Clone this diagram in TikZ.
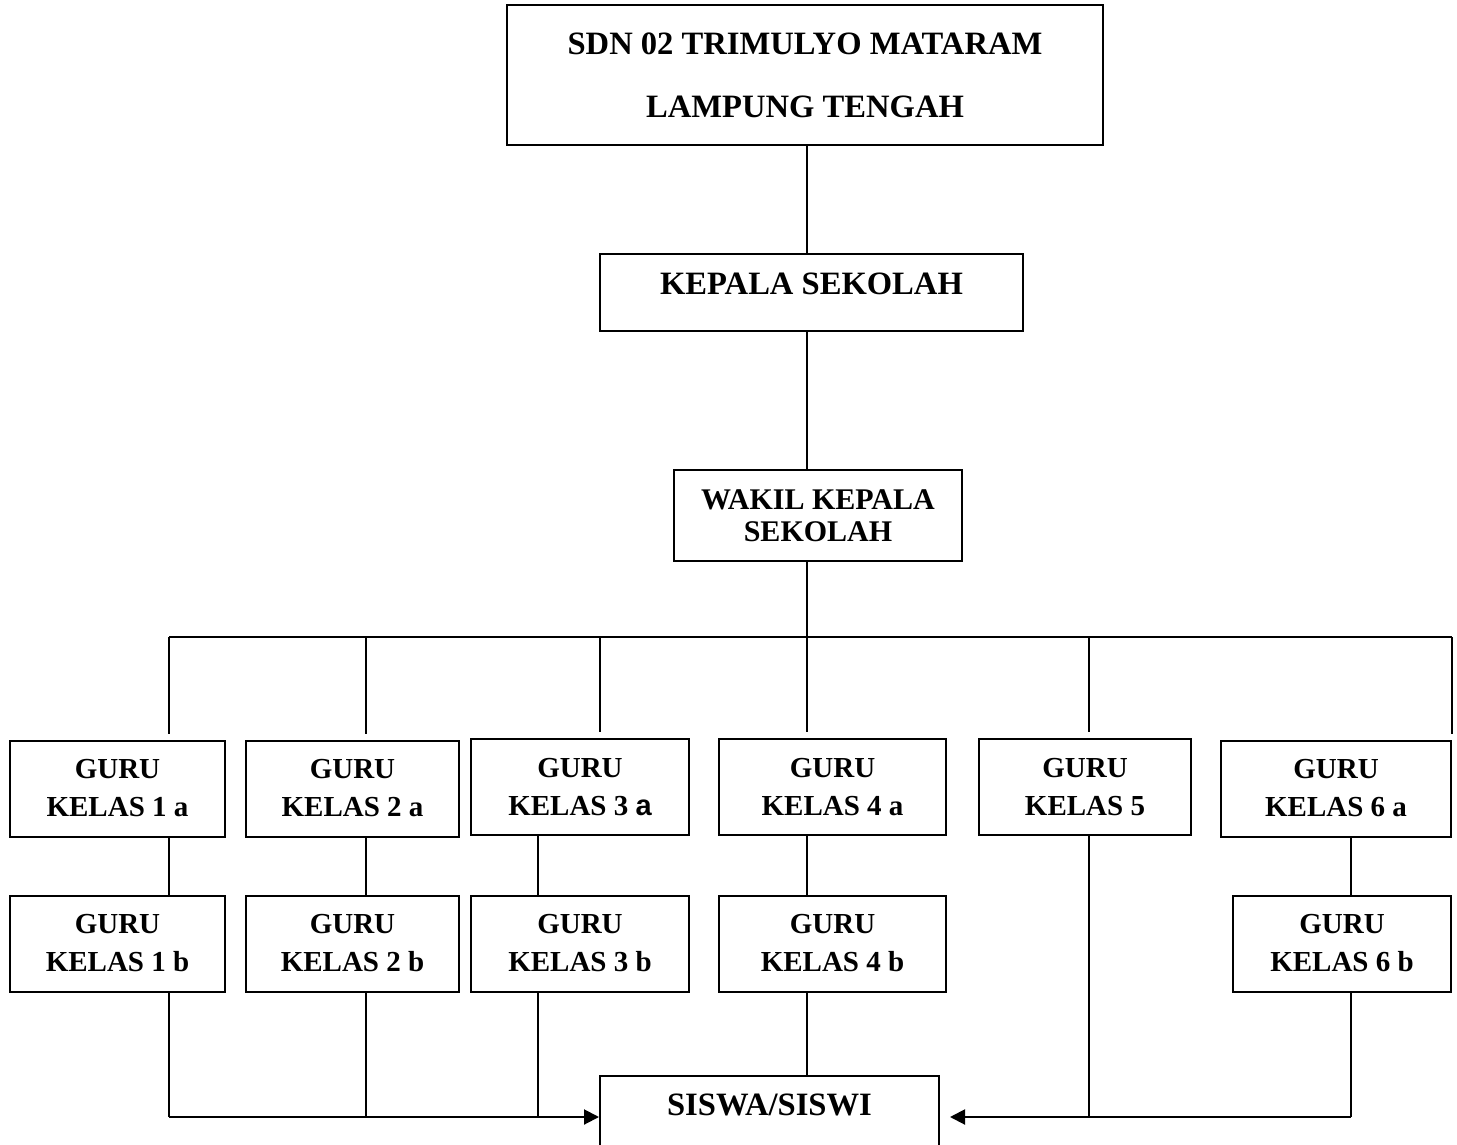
\documentclass[tikz,border=0pt]{standalone}
\usepackage{fontspec}
\setmainfont{Liberation Serif}
\newfontfamily\sansa{Liberation Sans}
\usetikzlibrary{arrows.meta}
\tikzstyle{unit} = [rectangle, draw=black, line width=1pt, inner sep=0pt, align=center, text centered, font=\fontsize{14.5}{16}\selectfont\bfseries]
\tikzstyle{head} = [unit, font=\fontsize{16.3}{17}\selectfont\bfseries]
\tikzstyle{guru} = [unit, minimum height=48pt]
\tikzstyle{line} = [line width=1pt]
\tikzstyle{edge} = [line width=1pt, -{Triangle[length=7.5pt,width=7.5pt]}]

\begin{document}
\begin{tikzpicture}[x=0.5pt, y=-0.5pt]
\useasboundingbox (0,0) rectangle (1457,1145);

\node (top) [head, minimum width=298pt, minimum height=70pt] at (805,75) {SDN 02 TRIMULYO MATARAM\\[14.5pt]LAMPUNG TENGAH};
\node (kep) [head, minimum width=211.5pt, text height=20.4pt, text depth=18.1pt, anchor=north] at (811.5,253) {KEPALA SEKOLAH};
\node (wakil) [unit, minimum width=144pt, minimum height=45.5pt, font=\fontsize{15}{16}\selectfont\bfseries] at (818,515.5) {WAKIL KEPALA\\SEKOLAH};

% guru kelas a
\node (g1a) [guru, minimum width=107.5pt] at (117.5,788.5) {GURU\\[3pt]KELAS 1 a};
\node (g2a) [guru, minimum width=106.5pt] at (352.5,788.5) {GURU\\[3pt]KELAS 2 a};
\node (g3a) [guru, minimum width=109pt] at (580,787) {GURU\\[3pt]KELAS 3 {\sansa a}};
\node (g4a) [guru, minimum width=113.5pt] at (832.5,787) {GURU\\[3pt]KELAS 4 a};
\node (g5) [guru, minimum width=106pt] at (1085,787) {GURU\\[3pt]KELAS 5};
\node (g6a) [guru, minimum width=115pt] at (1336,788.5) {GURU\\[3pt]KELAS 6 a};

% guru kelas b
\node (g1b) [guru, minimum width=107.5pt] at (117.5,943.5) {GURU\\[3pt]KELAS 1 b};
\node (g2b) [guru, minimum width=106.5pt] at (352.5,943.5) {GURU\\[3pt]KELAS 2 b};
\node (g3b) [guru, minimum width=109pt] at (580,943.5) {GURU\\[3pt]KELAS 3 b};
\node (g4b) [guru, minimum width=113.5pt] at (832.5,943.5) {GURU\\[3pt]KELAS 4 b};
\node (g6b) [guru, minimum width=109pt] at (1342,943.5) {GURU\\[3pt]KELAS 6 b};

\node (sis) [head, minimum width=169.5pt, text height=19.9pt, text depth=23pt, anchor=north] at (769.5,1075) {SISWA/SISWI};

% branch points
\coordinate (br1) at (169,637);
\coordinate (br2) at (366,637);
\coordinate (br3) at (600,637);
\coordinate (br4) at (807,637);
\coordinate (br5) at (1089,637);
\coordinate (br6) at (1452,637);
\coordinate (j1) at (169,1117);
\coordinate (j2) at (366,1117);
\coordinate (j3) at (538,1117);
\coordinate (j5) at (1089,1117);
\coordinate (j6) at (1351,1117);

\draw [line] (br4 |- top.south) -- (br4 |- kep.north);
\draw [line] (br4 |- kep.south) -- (br4 |- wakil.north);
\draw [line] (br4 |- wakil.south) -- (br4);
\draw [line] (br1) -- (br6);
\draw [line, shorten >=3pt] (br1) -- (br1 |- g1a.north);
\draw [line, shorten >=3pt] (br2) -- (br2 |- g2a.north);
\draw [line, shorten >=3pt] (br3) -- (br3 |- g3a.north);
\draw [line, shorten >=3pt] (br4) -- (br4 |- g4a.north);
\draw [line, shorten >=3pt] (br5) -- (br5 |- g5.north);
\draw [line, shorten >=3pt] (br6) -- (br6 |- g6a.north);

\draw [line] (j1 |- g1a.south) -- (j1 |- g1b.north);
\draw [line] (j2 |- g2a.south) -- (j2 |- g2b.north);
\draw [line] (j3 |- g3a.south) -- (j3 |- g3b.north);
\draw [line] (br4 |- g4a.south) -- (br4 |- g4b.north);
\draw [line] (j6 |- g6a.south) -- (j6 |- g6b.north);

\draw [line] (j1 |- g1b.south) -- (j1);
\draw [line] (j2 |- g2b.south) -- (j2);
\draw [line] (j3 |- g3b.south) -- (j3);
\draw [edge] (j1) -- (j1 -| sis.west);
\draw [line] (br4 |- g4b.south) -- (br4 |- sis.north);
\draw [line] (j5 |- g5.south) -- (j5);
\draw [line] (j6 |- g6b.south) -- (j6);
\draw [edge, shorten >=5pt] (j6) -- (j6 -| sis.east);

\end{tikzpicture}
\end{document}
